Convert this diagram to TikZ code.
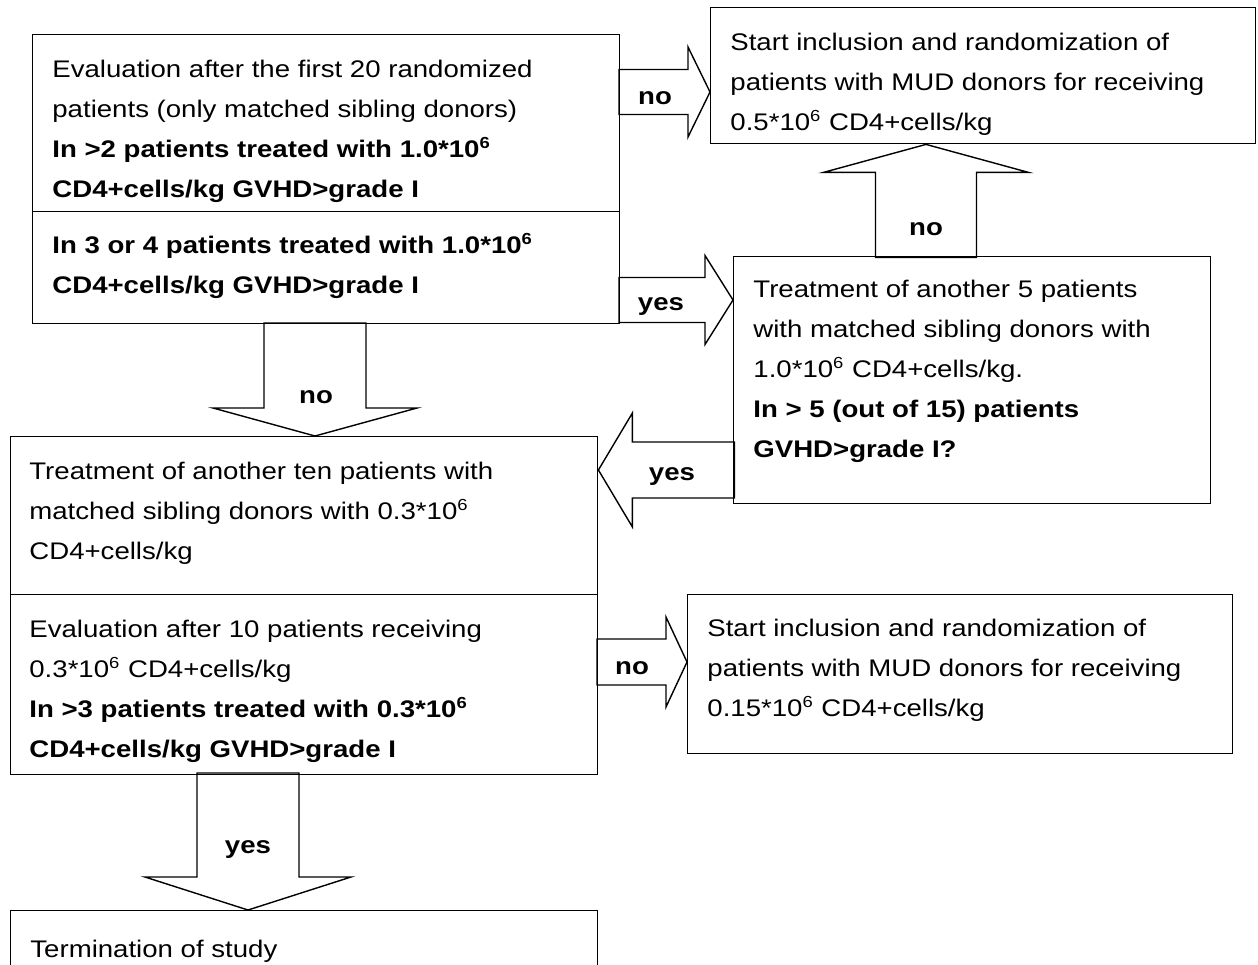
\documentclass[tikz,border=0pt]{standalone}
\usepackage{fontspec}
\setmainfont{Liberation Sans}[FakeStretch=1.15]
% fat block arrow: tip, direction, length, head length, half shaft, half head (all pt)
\newcommand\fatarrow[6]{%
  \draw[block line, shift={(#1)}, rotate=#2]
    (0pt,0pt) -- (-#4pt,#6pt) -- (-#4pt,#5pt) -- (-#3pt,#5pt)
    -- (-#3pt,-#5pt) -- (-#4pt,-#5pt) -- (-#4pt,-#6pt) -- cycle;}
\begin{document}
\begin{tikzpicture}[x=0.5pt,y=-0.5pt,
    box/.style={draw,line width=0.7pt,anchor=north west,inner sep=0pt},
    txt/.style={anchor=base west,align=left,inner sep=0pt,font=\fontsize{12}{20}\selectfont},
    lbl/.style={inner sep=0pt,font=\fontsize{12}{14}\selectfont\bfseries},
    block line/.style={line width=0.7pt,line join=miter}]
    \useasboundingbox (0,0) rectangle (1258,964);
    \clip (0,0) rectangle (1258,964);

    % boxes
    \node[box,minimum width=293.5pt,minimum height=88.5pt] at (32, 34) (firstEval) {};
    \node[box,minimum width=293.5pt,minimum height=56pt] at (32, 211) (secondEval) {};
    \node[box,minimum width=272.5pt,minimum height=68pt] at (710, 7) (mudHigh) {};
    \node[box,minimum width=238.5pt,minimum height=123.5pt] at (733, 256) (fiveMore) {};
    \node[box,minimum width=293.5pt,minimum height=79pt] at (10, 436) (tenMore) {};
    \node[box,minimum width=293.5pt,minimum height=90pt] at (10, 594) (tenEval) {};
    \node[box,minimum width=272.5pt,minimum height=79.5pt] at (687, 594) (mudLow) {};
    \node[box,minimum width=293.5pt,minimum height=50pt] at (10, 910) (stopStudy) {};

    % texts (placed at the baseline of their last line)
    \node[txt] at (52, 197) (firstEvalText) {Evaluation after the first 20 randomized\\
        patients (only matched sibling donors)\\
        \textbf{In >2 patients treated with 1.0*10\textsuperscript{6}}\\
        \textbf{CD4+cells/kg GVHD>grade I}};
    \node[txt] at (52, 293) (secondEvalText) {\textbf{In 3 or 4 patients treated with 1.0*10\textsuperscript{6}}\\
        \textbf{CD4+cells/kg GVHD>grade I}};
    \node[txt] at (730, 130) (mudHighText) {Start inclusion and randomization of\\
        patients with MUD donors for receiving\\
        0.5*10\textsuperscript{6} CD4+cells/kg};
    \node[txt] at (753, 457) (fiveMoreText) {Treatment of another 5 patients\\
        with matched sibling donors with\\
        1.0*10\textsuperscript{6} CD4+cells/kg.\\
        \textbf{In > 5 (out of 15) patients}\\
        \textbf{GVHD>grade I?}};
    \node[txt] at (29, 559) (tenMoreText) {Treatment of another ten patients with\\
        matched sibling donors with 0.3*10\textsuperscript{6}\\
        CD4+cells/kg};
    \node[txt] at (29, 757) (tenEvalText) {Evaluation after 10 patients receiving\\
        0.3*10\textsuperscript{6} CD4+cells/kg\\
        \textbf{In >3 patients treated with 0.3*10\textsuperscript{6}}\\
        \textbf{CD4+cells/kg GVHD>grade I}};
    \node[txt] at (707, 716) (mudLowText) {Start inclusion and randomization of\\
        patients with MUD donors for receiving\\
        0.15*10\textsuperscript{6} CD4+cells/kg};
    \node[txt] at (30, 957) (stopStudyText) {Termination of study};

    % arrow tips
    \coordinate (tipA) at (mudHigh.west |- 0,92);
    \coordinate (tipB) at (fiveMore.west |- 0,300);
    \coordinate (tipC) at (926,0 |- mudHigh.south);
    \coordinate (tipD) at (315,0 |- tenMore.north);
    \coordinate (tipE) at (tenMore.east |- 0,470);
    \coordinate (tipF) at (mudLow.west |- 0,662);
    \coordinate (tipG) at (248,0 |- stopStudy.north);

    % block arrows
    \fatarrow{tipA}{0}{45.5}{11}{11.25}{22.5}
    \fatarrow{tipB}{0}{57}{14}{11.25}{22.25}
    \fatarrow{tipC}{90}{56.5}{14}{25.25}{51.25}
    \fatarrow{tipD}{-90}{56.5}{14}{25.5}{51}
    \fatarrow{tipE}{180}{68}{17}{14}{28.5}
    \fatarrow{tipF}{0}{45}{10.5}{11.5}{22.5}
    \fatarrow{tipG}{-90}{68.5}{16.5}{25.5}{51.5}

    % arrow labels
    \node[lbl] at (655, 98) (noA) {no};
    \node[lbl] at (661, 307) (yesB) {yes};
    \node[lbl] at (926, 229) (noC) {no};
    \node[lbl] at (316, 397) (noD) {no};
    \node[lbl] at (672, 477) (yesE) {yes};
    \node[lbl] at (632, 668) (noF) {no};
    \node[lbl] at (248, 850) (yesG) {yes};
\end{tikzpicture}
\end{document}
